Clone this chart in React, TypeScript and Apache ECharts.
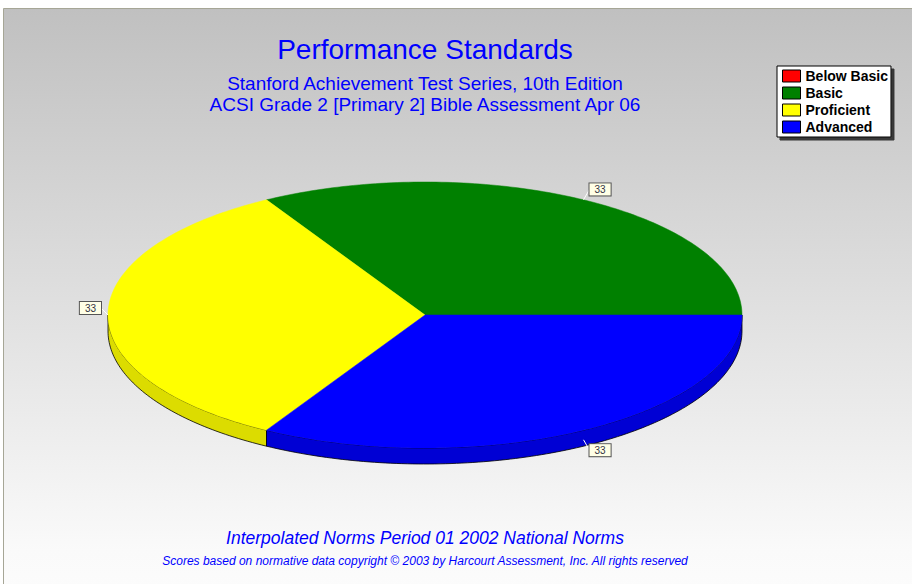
import React, { useEffect, useRef } from "react";
import * as echarts from "echarts";

const categories = ["Below Basic", "Basic", "Proficient", "Advanced"];
const values = [0, 33, 33, 33];
const valueLabels = ["0", "33", "33", "33"];
const colors = ["#ff0000", "#008000", "#ffff00", "#0000ff"];
const sideColors = ["#c80000", "#005e00", "#dcdc00", "#0000d4"];

const titleText = "Performance Standards";
const subtitleLines = [
  "Stanford Achievement Test Series, 10th Edition",
  "ACSI Grade 2 [Primary 2] Bible Assessment Apr 06",
];
const footerText = "Interpolated Norms Period 01 2002 National Norms";
const copyrightText =
  "Scores based on normative data copyright \u00a9 2003 by Harcourt Assessment, Inc. All rights reserved";

const CX = 425;
const CY = 315;
const RX = 317;
const RY = 133;
const DEPTH = 16;

function pt(theta: number, dy = 0): number[] {
  return [CX + RX * Math.cos(theta), CY - RY * Math.sin(theta) + dy];
}

function arc(a: number, b: number, dy = 0): number[][] {
  const n = Math.max(2, Math.ceil(((b - a) * 180) / Math.PI));
  const out: number[][] = [];
  for (let i = 0; i <= n; i++) out.push(pt(a + ((b - a) * i) / n, dy));
  return out;
}

function makeRenderItem(idx: number) {
  return (params: any, api: any) => {
    const v = api.value(0);
    const total = values.reduce((s, x) => s + x, 0);
    if (!v || !total) return { type: "group", children: [] };
    let before = 0;
    for (let i = 0; i < idx; i++) before += values[i];
    const start = (before / total) * Math.PI * 2;
    const end = start + (v / total) * Math.PI * 2;
    const children: any[] = [];
    const sa = Math.max(start, Math.PI);
    const sb = Math.min(end, Math.PI * 2);
    if (sb > sa) {
      const top = arc(sa, sb);
      const bottom = arc(sa, sb, DEPTH).reverse();
      children.push({
        type: "polygon",
        shape: { points: top.concat(bottom) },
        style: { fill: sideColors[idx], stroke: "#000", lineWidth: 0.8 },
        z2: 1,
      });
    }
    children.push({
      type: "polygon",
      shape: { points: [[CX, CY]].concat(arc(start, end)) },
      style: { fill: colors[idx], stroke: colors[idx], lineWidth: 0.5 },
      z2: 2,
    });
    const mid = (start + end) / 2;
    const c = Math.cos(mid);
    const s = Math.sin(mid);
    const front = s < -0.1 ? DEPTH * 0.6 : 0;
    const side = Math.abs(s) < 0.1;
    const rim = pt(mid, front);
    const ax = CX + (RX + (side ? 7 : 12)) * c;
    const ay = CY - (RY + 12) * s + front - (side ? 7 : 0);
    children.push({
      type: "line",
      shape: { x1: rim[0], y1: rim[1], x2: ax, y2: ay },
      style: { stroke: "#ffffff", lineWidth: 1 },
      z2: 3,
    });
    children.push({
      type: "text",
      x: ax,
      y: ay,
      style: {
        text: valueLabels[idx],
        fill: "#333344",
        font: "10px Arial, 'Liberation Sans', sans-serif",
        align: c > 0.1 ? "left" : c < -0.1 ? "right" : "center",
        verticalAlign: "middle",
        backgroundColor: "#ffffe6",
        borderColor: "#555555",
        borderWidth: 1,
        padding: [1, 5, 1, 5],
      },
      z2: 4,
    });
    return { type: "group", children };
  };
}

export default function App() {
  const ref = useRef<HTMLDivElement>(null);
  useEffect(() => {
    if (!ref.current) return;
    const chart = echarts.init(ref.current, null, { renderer: "svg" });
    const blue = "#0000ff";
    const ff = "Arial, 'Liberation Sans', sans-serif";
    chart.setOption({
      animation: false,
      backgroundColor: "#ffffff",
      legend: {
        orient: "vertical",
        left: 777,
        top: 66,
        padding: [3, 3, 3, 5],
        itemGap: 3,
        itemWidth: 18,
        itemHeight: 12,
        icon: "rect",
        backgroundColor: "#ffffff",
        borderColor: "#000000",
        borderWidth: 1,
        shadowColor: "rgba(40,40,40,0.9)",
        shadowOffsetX: 3,
        shadowOffsetY: 3,
        shadowBlur: 0,
        itemStyle: { borderColor: "#000000", borderWidth: 1 },
        textStyle: {
          color: "#000000",
          fontWeight: "bold",
          fontSize: 14,
          fontFamily: ff,
          padding: [0, 0, 0, 0],
        },
        selectedMode: false,
        data: categories,
      },
      graphic: [
        {
          type: "rect",
          z: -10,
          silent: true,
          shape: { x: 3.5, y: 8.5, width: 920, height: 590 },
          style: {
            fill: {
              type: "linear",
              x: 0,
              y: 0,
              x2: 0,
              y2: 1,
              colorStops: [
                { offset: 0, color: "#c0c0c0" },
                { offset: 0.92, color: "#fafafa" },
                { offset: 1, color: "#fcfcfc" },
              ],
            },
            stroke: "#a6a696",
            lineWidth: 1,
          },
        },
        {
          type: "text",
          x: 425,
          y: 49,
          style: {
            text: titleText,
            fill: blue,
            font: `28px ${ff}`,
            align: "center",
            verticalAlign: "middle",
          },
        },
        ...subtitleLines.map((t, i) => ({
          type: "text",
          x: 425,
          y: 83 + i * 21,
          style: {
            text: t,
            fill: blue,
            font: `19px ${ff}`,
            align: "center",
            verticalAlign: "middle",
          },
        })),
        {
          type: "text",
          x: 425,
          y: 538,
          style: {
            text: footerText,
            fill: blue,
            font: `italic 17.5px ${ff}`,
            align: "center",
            verticalAlign: "middle",
          },
        },
        {
          type: "text",
          x: 425,
          y: 561,
          style: {
            text: copyrightText,
            fill: blue,
            font: `italic 12px ${ff}`,
            align: "center",
            verticalAlign: "middle",
          },
        },
      ],
      series: categories.map((name, i) => ({
        type: "custom",
        name,
        coordinateSystem: "none",
        itemStyle: { color: colors[i] },
        renderItem: makeRenderItem(i),
        data: [[values[i]]],
      })),
    });
    return () => chart.dispose();
  }, []);
  return (
    <div
      ref={ref}
      style={{ position: "absolute", left: 0, top: 0, width: 912, height: 584 }}
    />
  );
}
